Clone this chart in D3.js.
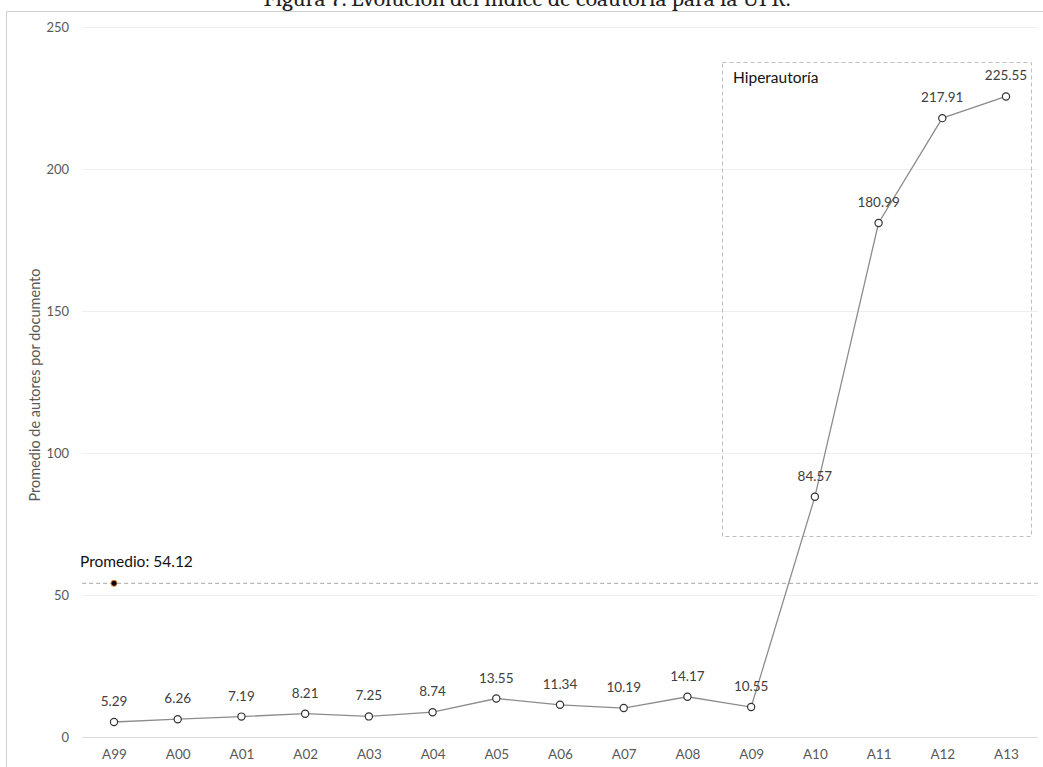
<!DOCTYPE html>
<html>
<head>
<meta charset="utf-8">
<script src="https://cdn.jsdelivr.net/npm/d3@7"></script>
<style>
  html, body { margin: 0; padding: 0; background: #fff; }
  svg { display: block; }
</style>
</head>
<body>
<svg id="chart" width="1043" height="767"></svg>
<script>
// Co-authorship index per year (average authors per document)
const years = ["A99","A00","A01","A02","A03","A04","A05","A06","A07","A08","A09","A10","A11","A12","A13"];
const authorsPerDoc = [5.29, 6.26, 7.19, 8.21, 7.25, 8.74, 13.55, 11.34, 10.19, 14.17, 10.55, 84.57, 180.99, 217.91, 225.55];
const average = 54.12;
const yTicks = [0, 50, 100, 150, 200, 250];
const hyperYears = ["A10", "A13"];

const svg = d3.select("#chart");
const font = "Lato, 'Open Sans', sans-serif";

const x = d3.scalePoint().domain(years).range([114, 1006]);
const step = x.step();
const y = d3.scaleLinear().domain([0, 250]).range([737, 27]);
const left = x(years[0]) - step / 2, right = x(years[years.length - 1]) + step / 2;

// Title (runs off the top edge of the page)
svg.append("text")
  .attr("x", 527).attr("y", 6)
  .attr("text-anchor", "middle")
  .attr("font-family", "Cambria, 'DejaVu Serif', 'Liberation Serif', serif")
  .attr("font-size", 23.5).attr("fill", "#222")
  .text("Figura 7. Evolución del índice de coautoría para la UPR.");

// Chart frame
svg.append("path")
  .attr("d", "M6.5,767 V11.5 H1043")
  .attr("fill", "none").attr("stroke", "#d0d0d0").attr("stroke-width", 1);

// Horizontal gridlines
svg.append("g").selectAll("line").data(yTicks.slice(1)).join("line")
  .attr("x1", left).attr("x2", right)
  .attr("y1", d => Math.round(y(d)) + 0.5).attr("y2", d => Math.round(y(d)) + 0.5)
  .attr("stroke", "#efefef");

// Category axis
const xAxis = svg.append("g").attr("transform", `translate(0,${Math.round(y(0)) + 0.5})`)
  .call(d3.axisBottom(x).tickSize(0).tickPadding(12));
xAxis.select(".domain").attr("d", `M${left},0H${right}`).attr("stroke", "#d9d9d9");
xAxis.selectAll("text").attr("font-family", font).attr("font-size", 13.5).attr("fill", "#595959");

// Value axis
const yAxis = svg.append("g").attr("transform", "translate(69,0)")
  .call(d3.axisLeft(y).tickValues(yTicks).tickSize(0).tickPadding(0));
yAxis.select(".domain").remove();
yAxis.selectAll("text").attr("font-family", font).attr("font-size", 13).attr("fill", "#595959");

// Axis title
svg.append("text")
  .attr("transform", "translate(40,385) rotate(-90)")
  .attr("text-anchor", "middle")
  .attr("font-family", font).attr("font-size", 14.5).attr("fill", "#595959")
  .text("Promedio de autores por documento");

// Average reference line
svg.append("line")
  .attr("x1", left).attr("x2", right)
  .attr("y1", y(average)).attr("y2", y(average))
  .attr("stroke", "#a6a6a6").attr("stroke-dasharray", "4,3");
svg.append("circle")
  .attr("cx", x(years[0])).attr("cy", y(average)).attr("r", 3)
  .attr("fill", "#000").attr("stroke", "#e07b22").attr("stroke-width", 1);
svg.append("text")
  .attr("x", 80).attr("y", y(average) - 16)
  .attr("font-family", font).attr("font-size", 15.5).attr("fill", "#111")
  .text("Promedio: " + average.toFixed(2));

// Hyper-authorship box
const boxX0 = x(hyperYears[0]) - step * 1.45, boxX1 = x(hyperYears[1]) + step * 0.4;
svg.append("rect")
  .attr("x", Math.round(boxX0) + 0.5).attr("y", 62.5)
  .attr("width", Math.round(boxX1 - boxX0)).attr("height", 474)
  .attr("fill", "none").attr("stroke", "#bfbfbf").attr("stroke-dasharray", "4,3");
svg.append("text")
  .attr("x", Math.round(boxX0) + 11).attr("y", 83)
  .attr("font-family", font).attr("font-size", 15.5).attr("fill", "#111")
  .text("Hiperautoría");

// Series line
const pts = years.map((k, i) => [x(k), y(authorsPerDoc[i])]);
svg.append("path")
  .attr("d", d3.line()(pts))
  .attr("fill", "none").attr("stroke", "#8c8c8c").attr("stroke-width", 1.3);

// Markers
svg.append("g").selectAll("circle").data(pts).join("circle")
  .attr("cx", d => d[0]).attr("cy", d => d[1]).attr("r", 3.6)
  .attr("fill", "#fff").attr("stroke", "#333").attr("stroke-width", 1.2);

// Data labels
svg.append("g").selectAll("text").data(authorsPerDoc).join("text")
  .attr("x", (d, i) => x(years[i]))
  .attr("y", d => y(d) - 16)
  .attr("text-anchor", "middle")
  .attr("font-family", font).attr("font-size", 13.5).attr("fill", "#404040")
  .text(d => d.toFixed(2));
</script>
</body>
</html>
